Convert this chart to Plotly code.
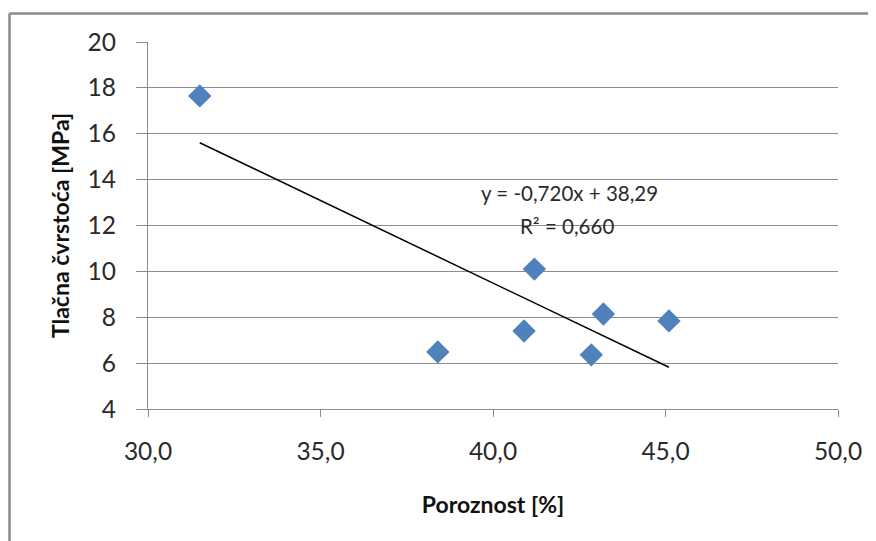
import plotly.graph_objects as go

porosity = [31.5, 38.4, 40.9, 41.2, 42.85, 43.2, 45.1]
strength = [17.65, 6.49, 7.4, 10.1, 6.36, 8.14, 7.84]

trend_slope = -0.720
trend_intercept = 38.29
trend_label = "y = -0,720x + 38,29"
r2_label = "R² = 0,660"

x_title = "Poroznost [%]"
y_title = "Tlačna čvrstoća [MPa]"

FONT = "Lato, 'Liberation Sans', sans-serif"
TXT = "#2a2a2a"

tx = [min(porosity), max(porosity)]
ty = [trend_slope * v + trend_intercept for v in tx]

fig = go.Figure()
fig.add_trace(go.Scatter(
    x=porosity, y=strength, mode="markers",
    marker=dict(symbol="diamond", size=18, color="#4F81BD",
                line=dict(width=0)),
    showlegend=False))
fig.add_trace(go.Scatter(
    x=tx, y=ty, mode="lines",
    line=dict(color="black", width=1.5),
    showlegend=False))

# page body has 8px offset; plot area in screen px
px_l, px_r, py_t, py_b = 148, 838, 42, 409
def pxx(v): return (v - px_l) / (px_r - px_l)
def pyy(v): return (py_b - v) / (py_b - py_t)

fig.add_annotation(x=pxx(569), y=pyy(193), xref="paper", yref="paper",
                   text=trend_label, showarrow=False,
                   font=dict(family=FONT, size=20.5, color=TXT))
fig.add_annotation(x=pxx(567), y=pyy(226), xref="paper", yref="paper",
                   text=r2_label, showarrow=False,
                   font=dict(family=FONT, size=20.5, color=TXT))

# outer chart border (top and left only visible)
fig.add_shape(type="line", xref="paper", yref="paper",
              x0=pxx(9.5), y0=pyy(13.5), x1=pxx(890), y1=pyy(13.5),
              line=dict(color="#8a8a8a", width=2.5))
fig.add_shape(type="line", xref="paper", yref="paper",
              x0=pxx(9.5), y0=pyy(13.5), x1=pxx(9.5), y1=pyy(560),
              line=dict(color="#8a8a8a", width=2.5))

fig.update_layout(
    width=876, height=541,
    margin=dict(l=px_l - 8, r=876 + 8 - px_r, t=py_t - 8, b=541 + 8 - py_b),
    paper_bgcolor="white", plot_bgcolor="white",
    separators=", ",
    font=dict(family=FONT, size=21, color=TXT),
    xaxis=dict(range=[30, 50], dtick=5, tickformat=".1f",
               showgrid=False, zeroline=False,
               showline=True, linecolor="#8c8c8c", linewidth=1.2,
               ticks="outside", ticklen=7, tickcolor="#8c8c8c",
               ticklabelstandoff=13,
               tickfont=dict(size=24.5, color=TXT),
               title=dict(text="<b>" + x_title + "</b>", font=dict(size=23, color="#111"), standoff=33)),
    yaxis=dict(range=[4, 20], dtick=2,
               showgrid=True, gridcolor="#8c8c8c", gridwidth=1.2,
               zeroline=False,
               showline=True, linecolor="#8c8c8c", linewidth=1.2,
               ticks="outside", ticklen=11, tickcolor="#8c8c8c",
               ticklabelstandoff=15,
               tickfont=dict(size=24.5, color=TXT),
               title=dict(text="<b>" + y_title + "</b>", font=dict(size=23, color="#111"), standoff=11)),
)

fig.write_html("out.html")
